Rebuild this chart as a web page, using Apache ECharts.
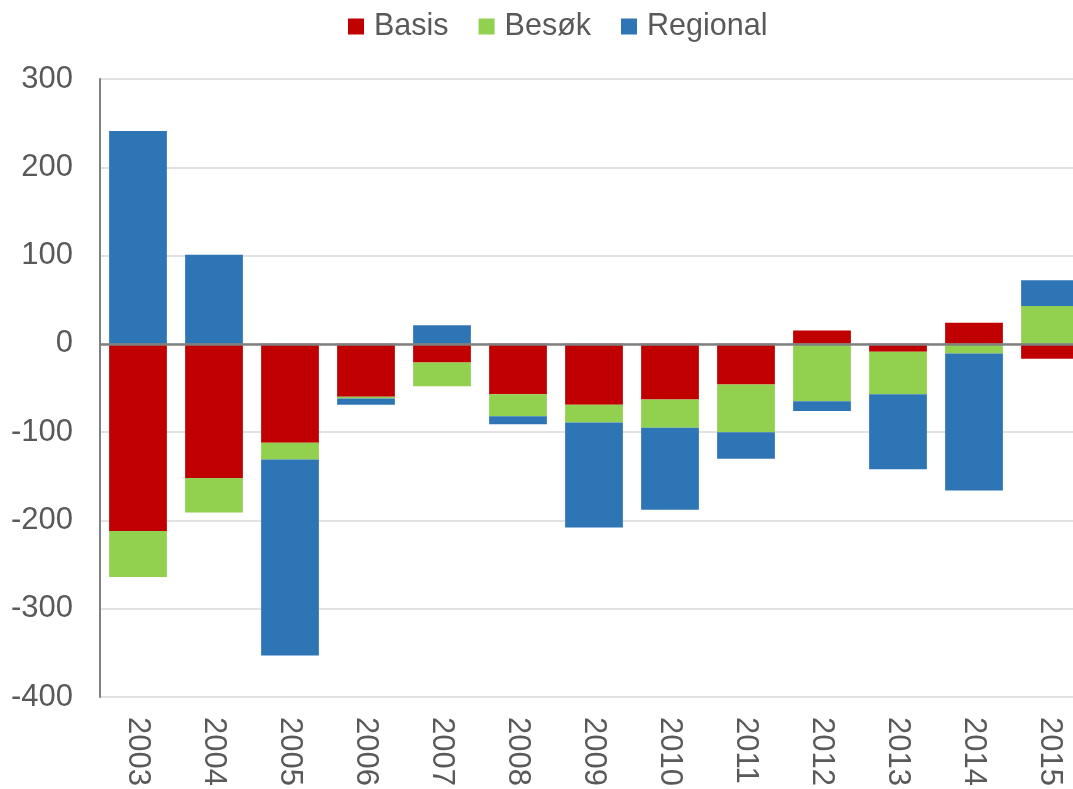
<!DOCTYPE html>
<html>
<head>
<meta charset="utf-8">
<script src="https://cdn.jsdelivr.net/npm/echarts@6/dist/echarts.min.js"></script>
<style>
  html, body { margin: 0; padding: 0; background: #fff; }
  #chart { width: 1073px; height: 789px; }
</style>
</head>
<body>
<div id="chart"></div>
<script>
var years = ['2003', '2004', '2005', '2006', '2007', '2008', '2009', '2010', '2011', '2012', '2013', '2014', '2015']
var basis = [-212, -152, -112, -60, -21, -57, -69, -63, -46, 15, -9, 24, -17]
var besok = [-52, -39, -19, -2, -27, -25, -20, -32, -54, -65, -48, -11, 43]
var regional = [241, 101, -222, -7, 21, -9, -119, -93, -30, -11, -85, -155, 29]
var yTicks = { min: -400, max: 300, interval: 100 }

var font = "'Liberation Sans', Arial, sans-serif"
var grey = '#595959'

var chart = echarts.init(document.getElementById('chart'))
chart.setOption({
  animation: false,
  textStyle: { fontFamily: font },
  legend: {
    left: 343,
    top: 6,
    itemWidth: 16,
    itemHeight: 16,
    itemGap: 30,
    icon: 'rect',
    textStyle: { fontSize: 30.5, color: grey, padding: [0, 0, 0, 5] },
    data: ['Basis', 'Besøk', 'Regional']
  },
  // plot area runs a little past the right edge of the canvas, like the original
  grid: { left: 100, width: 988, top: 79, bottom: 92, containLabel: false, outerBoundsMode: 'none' },
  xAxis: {
    type: 'category',
    data: years,
    axisLine: { show: false, onZero: false },
    axisTick: { show: false },
    axisLabel: { rotate: -90, fontSize: 31, color: grey, margin: 20 }
  },
  yAxis: {
    type: 'value',
    min: yTicks.min,
    max: yTicks.max,
    interval: yTicks.interval,
    axisLine: { show: true, lineStyle: { color: '#808080', width: 2 } },
    axisTick: { show: false },
    splitLine: { lineStyle: { color: '#d9d9d9', width: 1.5 } },
    axisLabel: { fontSize: 31, color: grey, margin: 27 }
  },
  series: [
    {
      name: 'Basis', type: 'bar', stack: 'a', data: basis,
      barCategoryGap: '24%',
      itemStyle: { color: '#C00000' },
      markLine: {
        silent: true,
        symbol: 'none',
        label: { show: false },
        lineStyle: { color: '#808080', width: 2.5, type: 'solid' },
        data: [{ yAxis: 0 }]
      },
      z: 2
    },
    { name: 'Besøk', type: 'bar', stack: 'a', data: besok, itemStyle: { color: '#92D050' } },
    { name: 'Regional', type: 'bar', stack: 'a', data: regional, itemStyle: { color: '#2E75B6' } }
  ]
})
</script>
</body>
</html>
